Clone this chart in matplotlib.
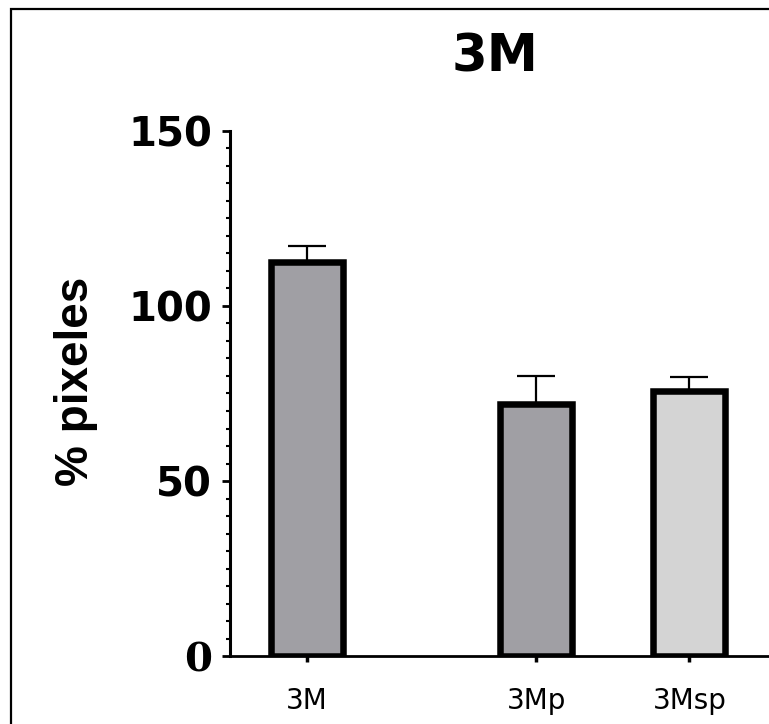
import matplotlib.pyplot as plt
from matplotlib.patches import Rectangle
from matplotlib.ticker import MultipleLocator
import numpy as np

# data
groups = ["3M", "3Mp", "3Msp"]
positions = [0, 1.5, 2.5]
means = [112.7, 71.9, 75.7]
err_up = [4.4, 8.1, 4.0]
colors = ["#a09fa4", "#a09fa4", "#d4d4d4"]

fig = plt.figure(figsize=(7.69, 7.24), dpi=100)
ax = fig.add_axes([230/769, 68/724, 539/769, 525/724])

ax.bar(positions, means, width=0.47, color=colors, edgecolor="black", linewidth=4.7, zorder=2)
ax.errorbar(positions, means, yerr=[np.zeros(len(means)), err_up], fmt="none",
            ecolor="black", elinewidth=1.6, capsize=13.5, capthick=1.6, zorder=1)

ax.set_xlim(-0.5, 3.02)
ax.set_ylim(0, 150)
ax.set_xticks(positions)
ax.set_xticklabels(groups, fontsize=20, family="DejaVu Sans")
ax.set_yticks([0, 50, 100, 150])
ax.yaxis.set_minor_locator(MultipleLocator(5))
for lab in ax.get_yticklabels():
    lab.set_fontsize(29)
    lab.set_fontweight("bold")
    lab.set_family("DejaVu Sans")
ax.get_yticklabels()[0].set_family("DejaVu Serif")

ax.spines["top"].set_visible(False)
ax.spines["right"].set_visible(False)
ax.spines["left"].set_linewidth(2.2)
ax.spines["bottom"].set_linewidth(2.0)
ax.tick_params(axis="y", which="major", length=6, width=2, pad=7, direction="out")
ax.tick_params(axis="y", which="minor", length=3, width=1.5, direction="out")
ax.tick_params(axis="x", length=4, width=2.5, pad=18, direction="out")

ax.set_ylabel("% pixeles", fontsize=33, fontweight="bold", family="Liberation Sans", va="center")
ax.yaxis.set_label_coords(-154/539, 0.524)

fig.text(495/769, 1 - 58/724, "3M", ha="center", va="center", fontsize=37,
         fontweight="bold", family="DejaVu Sans")

# outer frame (cut off at right and bottom in the original)
fig.patches.append(Rectangle((11/769, -0.1), 1.2, 1 - 9/724 + 0.1, transform=fig.transFigure,
                             fill=False, edgecolor="black", linewidth=1.6))

fig.savefig("out.png", dpi=100)
